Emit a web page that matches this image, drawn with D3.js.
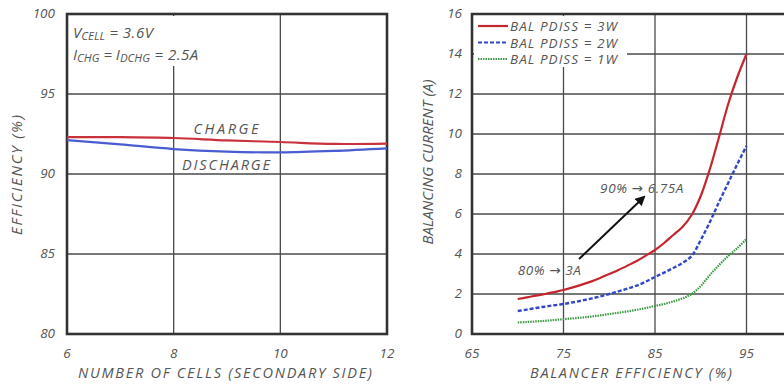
<!DOCTYPE html>
<html>
<head>
<meta charset="utf-8">
<script src="https://cdn.jsdelivr.net/npm/d3@7"></script>
<style>
  body { margin: 0; background: #fff; }
  svg { display: block; overflow: hidden; }
  text { font-family: "Open Sans", sans-serif; font-style: italic; fill: #555; }
  tspan.arrow { font-family: "DejaVu Sans", sans-serif; font-style: normal; }
</style>
</head>
<body>
<script>
// left chart: efficiency vs number of cells
var cells = [6, 7, 8, 9, 10, 11, 12];
var chargeEff = [92.3, 92.3, 92.25, 92.1, 92.0, 91.88, 91.9];
var dischargeEff = [92.12, 91.85, 91.56, 91.4, 91.35, 91.44, 91.6];
var leftXTicks = [6, 8, 10, 12];
var leftYTicks = [80, 85, 90, 95, 100];

// right chart: balancing current vs balancer efficiency
var balEff = [70, 71, 72, 73, 74, 75, 76, 77, 78, 79, 80, 81, 82, 83, 84, 85, 86, 87, 88, 89, 90, 91, 92, 93, 94, 95];
var cur3W = [1.75, 1.83, 1.92, 2.0, 2.1, 2.2, 2.33, 2.47, 2.62, 2.8, 3.0, 3.2, 3.42, 3.65, 3.92, 4.2, 4.55, 4.95, 5.35, 5.95, 6.9, 8.25, 9.85, 11.5, 12.85, 14.0];
var cur2W = [1.15, 1.22, 1.3, 1.37, 1.44, 1.5, 1.58, 1.67, 1.77, 1.88, 2.0, 2.13, 2.27, 2.42, 2.62, 2.85, 3.07, 3.3, 3.55, 3.9, 4.7, 5.6, 6.6, 7.55, 8.5, 9.4];
var cur1W = [0.58, 0.6, 0.63, 0.66, 0.7, 0.74, 0.78, 0.82, 0.87, 0.93, 1.0, 1.06, 1.13, 1.21, 1.3, 1.4, 1.5, 1.63, 1.78, 2.0, 2.4, 2.95, 3.45, 3.9, 4.3, 4.75];
var seriesNames = ['BAL PDISS = 3W', 'BAL PDISS = 2W', 'BAL PDISS = 1W'];
var rightXTicks = [65, 75, 85, 95, 105];
var rightYTicks = [0, 2, 4, 6, 8, 10, 12, 14, 16];

var svg = d3.select('body').append('svg').attr('width', 784).attr('height', 385);
var gridColor = '#4a4a4a';

// ---------- left panel ----------
var lx = d3.scaleLinear().domain([6, 12]).range([67, 387]);
var ly = d3.scaleLinear().domain([80, 100]).range([334, 14]);

var left = svg.append('g');
left.selectAll('line.vgrid').data(leftXTicks.slice(1, -1)).enter().append('line')
  .attr('class', 'vgrid')
  .attr('x1', function(d) { return lx(d); }).attr('x2', function(d) { return lx(d); })
  .attr('y1', ly(100)).attr('y2', ly(80))
  .attr('stroke', gridColor).attr('stroke-width', 1.3);
left.selectAll('line.hgrid').data(leftYTicks.slice(1, -1)).enter().append('line')
  .attr('class', 'hgrid')
  .attr('x1', lx(6)).attr('x2', lx(12))
  .attr('y1', function(d) { return ly(d); }).attr('y2', function(d) { return ly(d); })
  .attr('stroke', gridColor).attr('stroke-width', 1.3);

// white box behind the conditions text
left.append('rect').attr('x', lx(6) + 2).attr('y', ly(100) + 2).attr('width', 150).attr('height', 50).attr('fill', '#fff');

left.append('rect')
  .attr('x', lx(6)).attr('y', ly(100))
  .attr('width', lx(12) - lx(6)).attr('height', ly(80) - ly(100))
  .attr('fill', 'none').attr('stroke', '#333').attr('stroke-width', 2.6);

var lline = d3.line().x(function(d, i) { return lx(cells[i]); }).y(function(d) { return ly(d); }).curve(d3.curveCatmullRom);
left.append('path').datum(chargeEff).attr('d', lline)
  .attr('fill', 'none').attr('stroke', '#c9323c').attr('stroke-width', 2.2);
left.append('path').datum(dischargeEff).attr('d', lline)
  .attr('fill', 'none').attr('stroke', '#4a5cd2').attr('stroke-width', 2.2);

left.append('text').attr('x', 226).attr('y', 134).attr('text-anchor', 'middle')
  .attr('font-size', 14.5).attr('textLength', 65).text('CHARGE');
left.append('text').attr('x', 226).attr('y', 170).attr('text-anchor', 'middle')
  .attr('font-size', 14.5).attr('textLength', 88).text('DISCHARGE');

var t1 = left.append('text').attr('x', 73).attr('y', 38).attr('font-size', 15);
t1.append('tspan').text('V');
t1.append('tspan').attr('font-size', 11.5).attr('dy', 2).text('CELL');
t1.append('tspan').attr('dy', -2).attr('letter-spacing', 0.5).text(' = 3.6V');
var t2 = left.append('text').attr('x', 73).attr('y', 60).attr('font-size', 15);
t2.append('tspan').text('I');
t2.append('tspan').attr('font-size', 11.5).attr('dy', 2).text('CHG');
t2.append('tspan').attr('dy', -2).text(' = I');
t2.append('tspan').attr('font-size', 11.5).attr('dy', 2).text('DCHG');
t2.append('tspan').attr('dy', -2).attr('letter-spacing', 0.5).text(' = 2.5A');

left.selectAll('text.ytick').data(leftYTicks).enter().append('text')
  .attr('class', 'ytick').attr('x', 55).attr('y', function(d) { return ly(d) + 4; })
  .attr('text-anchor', 'end').attr('font-size', 13.5).text(function(d) { return d; });
left.selectAll('text.xtick').data(leftXTicks).enter().append('text')
  .attr('class', 'xtick').attr('x', function(d) { return lx(d); }).attr('y', 358)
  .attr('text-anchor', 'middle').attr('font-size', 13.5).text(function(d) { return d; });
left.append('text').attr('x', 225).attr('y', 378).attr('text-anchor', 'middle')
  .attr('font-size', 14.5).attr('textLength', 294).text('NUMBER OF CELLS (SECONDARY SIDE)');
left.append('text').attr('transform', 'translate(22,175) rotate(-90)').attr('text-anchor', 'middle')
  .attr('font-size', 15).attr('textLength', 120).text('EFFICIENCY (%)');

// ---------- right panel ----------
var rx = d3.scaleLinear().domain([65, 105]).range([472, 838]);
var ry = d3.scaleLinear().domain([0, 16]).range([334, 14]);

var right = svg.append('g');
right.selectAll('line.vgrid').data(rightXTicks.slice(1)).enter().append('line')
  .attr('class', 'vgrid')
  .attr('x1', function(d) { return rx(d); }).attr('x2', function(d) { return rx(d); })
  .attr('y1', ry(16)).attr('y2', ry(0))
  .attr('stroke', gridColor).attr('stroke-width', 1.3);
right.selectAll('line.hgrid').data(rightYTicks.slice(1)).enter().append('line')
  .attr('class', 'hgrid')
  .attr('x1', rx(65)).attr('x2', rx(105))
  .attr('y1', function(d) { return ry(d); }).attr('y2', function(d) { return ry(d); })
  .attr('stroke', gridColor).attr('stroke-width', 1.3);

// white box behind the legend
right.append('rect').attr('x', rx(65) + 2).attr('y', ry(16) + 2).attr('width', 153).attr('height', 51).attr('fill', '#fff');

right.append('path')
  .attr('d', 'M' + rx(105) + ',' + ry(16) + 'H' + rx(65) + 'V' + ry(0) + 'H' + rx(105))
  .attr('fill', 'none').attr('stroke', '#333').attr('stroke-width', 2.6);

var series = [
  { name: seriesNames[0], values: cur3W, color: '#c4262e', dash: null, width: 2.2 },
  { name: seriesNames[1], values: cur2W, color: '#3347c4', dash: '4,2', width: 2.4 },
  { name: seriesNames[2], values: cur1W, color: '#3d9a45', dash: '1.5,1', width: 2.2 }
];
var rline = d3.line().x(function(d, i) { return rx(balEff[i]); }).y(function(d) { return ry(d); }).curve(d3.curveCatmullRom);
right.selectAll('path.series').data(series).enter().append('path')
  .attr('class', 'series')
  .attr('d', function(d) { return rline(d.values); })
  .attr('fill', 'none').attr('stroke', function(d) { return d.color; })
  .attr('stroke-width', function(d) { return d.width; })
  .attr('stroke-dasharray', function(d) { return d.dash; });

var leg = right.selectAll('g.leg').data(series).enter().append('g')
  .attr('class', 'leg').attr('transform', function(d, i) { return 'translate(478,' + (26 + i * 16.5) + ')'; });
leg.append('line').attr('x1', 0).attr('x2', 30).attr('y1', 0).attr('y2', 0)
  .attr('stroke', function(d) { return d.color; }).attr('stroke-width', 2.2)
  .attr('stroke-dasharray', function(d) { return d.dash; });
leg.append('text').attr('x', 32).attr('y', 5).attr('font-size', 13.5)
  .attr('textLength', 107).text(function(d) { return d.name; });

// arrow annotation
svg.append('defs').append('marker').attr('id', 'head')
  .attr('viewBox', '0 0 10 10').attr('refX', 8).attr('refY', 5)
  .attr('markerWidth', 5).attr('markerHeight', 5).attr('orient', 'auto')
  .append('path').attr('d', 'M0,0L10,5L0,10z').attr('fill', '#111');
right.append('line')
  .attr('x1', rx(76.7)).attr('y1', ry(3.75)).attr('x2', rx(83.8)).attr('y2', ry(6.85))
  .attr('stroke', '#111').attr('stroke-width', 2).attr('marker-end', 'url(#head)');

var a1 = right.append('text').attr('x', rx(70)).attr('y', ry(2.95)).attr('font-size', 13.5)
  .attr('letter-spacing', 0.6);
a1.append('tspan').text('80% ');
a1.append('tspan').attr('class', 'arrow').text('\u2192');
a1.append('tspan').text(' 3A');
var a2 = right.append('text').attr('x', rx(79)).attr('y', ry(7.05)).attr('font-size', 13.5)
  .attr('letter-spacing', 0.6);
a2.append('tspan').text('90% ');
a2.append('tspan').attr('class', 'arrow').text('\u2192');
a2.append('tspan').text(' 6.75A');

right.selectAll('text.ytick').data(rightYTicks).enter().append('text')
  .attr('class', 'ytick').attr('x', 462).attr('y', function(d) { return ry(d) + 4; })
  .attr('text-anchor', 'end').attr('font-size', 13.5).text(function(d) { return d; });
right.selectAll('text.xtick').data(rightXTicks.slice(0, 4)).enter().append('text')
  .attr('class', 'xtick').attr('x', function(d) { return rx(d); }).attr('y', 358)
  .attr('text-anchor', 'middle').attr('font-size', 13.5).text(function(d) { return d; });
right.append('text').attr('x', 631).attr('y', 378).attr('text-anchor', 'middle')
  .attr('font-size', 14.5).attr('textLength', 202).text('BALANCER EFFICIENCY (%)');
right.append('text').attr('transform', 'translate(433,162) rotate(-90)').attr('text-anchor', 'middle')
  .attr('font-size', 15).attr('textLength', 165).text('BALANCING CURRENT (A)');
</script>
</body>
</html>
